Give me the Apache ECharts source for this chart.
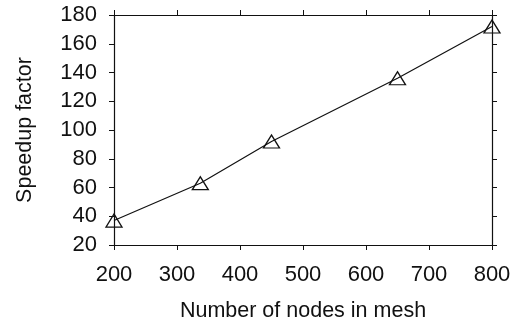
<!DOCTYPE html>
<html>
<head>
<meta charset="utf-8">
<script src="https://cdn.jsdelivr.net/npm/echarts@6/dist/echarts.min.js"></script>
<style>
  html, body { margin: 0; padding: 0; background: #fff; }
  #chart { width: 514px; height: 330px; }
</style>
</head>
<body>
<div id="chart"></div>
<script>
// Mesh size versus measured speedup
const nodes = [200, 337, 450, 650, 800];
const speedup = [37, 63, 92, 136, 172];

const xTicks = { min: 200, max: 800, interval: 100 };
const yTicks = { min: 20, max: 180, interval: 20 };

const font = '"Liberation Sans", Arial, Helvetica, sans-serif';
const ink = '#111';

const frameAxis = {
  axisLine: { show: true, onZero: false, lineStyle: { color: ink, width: 1.2 } },
  axisTick: { show: true, inside: false, length: 5, lineStyle: { color: ink, width: 1 } },
  splitLine: { show: false }
};

const chart = echarts.init(document.getElementById('chart'), null, { renderer: 'canvas' });
chart.setOption({
  animation: false,
  backgroundColor: '#fff',
  grid: { left: 114, right: 22, top: 15, bottom: 85 },
  xAxis: [
    Object.assign({
      type: 'value', position: 'bottom',
      min: xTicks.min, max: xTicks.max, interval: xTicks.interval,
      name: 'Number of nodes in mesh', nameLocation: 'middle', nameGap: 55,
      nameTextStyle: { fontFamily: font, fontSize: 21.5, color: ink },
      axisLabel: { fontFamily: font, fontSize: 22, color: ink, margin: 19 }
    }, frameAxis),
    Object.assign({
      type: 'value', position: 'top',
      min: xTicks.min, max: xTicks.max, interval: xTicks.interval,
      axisLabel: { show: false }
    }, frameAxis)
  ],
  yAxis: [
    Object.assign({
      type: 'value', position: 'left',
      min: yTicks.min, max: yTicks.max, interval: yTicks.interval,
      name: 'Speedup factor', nameLocation: 'middle', nameGap: 78,
      nameTextStyle: { fontFamily: font, fontSize: 21.5, color: ink },
      axisLabel: { fontFamily: font, fontSize: 22, color: ink, margin: 17 }
    }, frameAxis),
    Object.assign({
      type: 'value', position: 'right',
      min: yTicks.min, max: yTicks.max, interval: yTicks.interval,
      axisLabel: { show: false }
    }, frameAxis)
  ],
  series: [{
    type: 'line',
    xAxisIndex: 0,
    yAxisIndex: 0,
    data: nodes.map((n, i) => [n, speedup[i]]),
    lineStyle: { color: ink, width: 1.2 },
    symbol: 'triangle',
    symbolSize: [16, 13],
    itemStyle: { color: 'rgba(255,255,255,0)', borderColor: ink, borderWidth: 1.3 },
    clip: false
  }]
});
</script>
</body>
</html>
